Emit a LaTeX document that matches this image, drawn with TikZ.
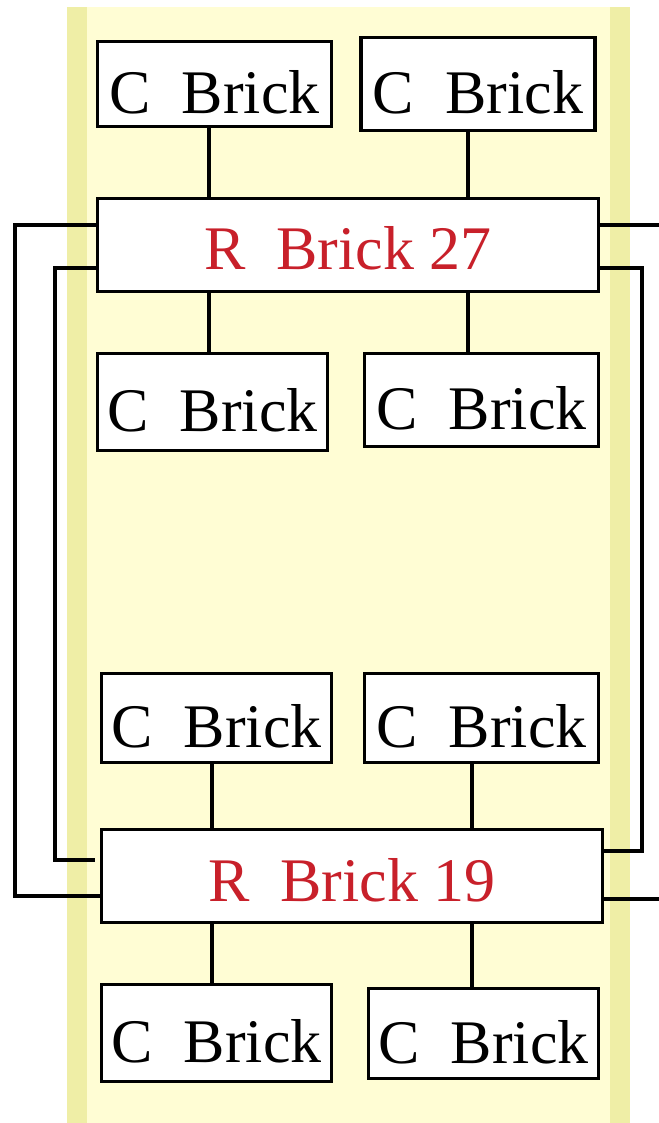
\documentclass[tikz,border=0pt]{standalone}
\usepackage{fontspec}
\setmainfont{Liberation Serif}
\usetikzlibrary{calc}
\definecolor{PanelYellow}{RGB}{255,253,212}
\definecolor{StripeYellow}{RGB}{239,238,166}
\definecolor{BrickRed}{RGB}{200,32,42}

\begin{document}
\begin{tikzpicture}[x=0.5pt,y=-0.5pt,line width=1.8pt,
    cbrick/.style={draw,fill=white,inner sep=0pt,minimum width=117pt,minimum height=45pt,
      text height=29.6pt,text depth=0pt,font=\fontsize{31pt}{36pt}\selectfont},
    rbrick/.style={cbrick,minimum width=250.5pt,minimum height=46.5pt,text height=25pt,text=BrickRed}]
  \useasboundingbox (0,0) rectangle (658,1123);
  \fill[PanelYellow] (67,7) rectangle (630,1123);
  \fill[StripeYellow] (67,7) rectangle (87,1123);
  \fill[StripeYellow] (610,7) rectangle (630,1123);

  \node[cbrick,minimum height=42.5pt] (c27nw) at (214.5,84) {C\ \ Brick};
  \node[cbrick,minimum height=46.5pt] (c27ne) at (478,84) {C\ \ Brick};
  \node[rbrick] (r27) at (348,245) {R\ \ Brick 27};
  \node[cbrick,minimum width=115pt,minimum height=48.5pt] (c27sw) at (212.5,402) {C\ \ Brick};
  \node[cbrick,minimum height=46.5pt] (c27se) at (481.5,400) {C\ \ Brick};

  \node[cbrick,minimum width=115pt,minimum height=44.5pt] (c19nw) at (216.5,718) {C\ \ Brick};
  \node[cbrick,minimum height=44.5pt] (c19ne) at (481.5,718) {C\ \ Brick};
  \node[rbrick] (r19) at (352,876) {R\ \ Brick 19};
  \node[cbrick,minimum width=115pt,minimum height=48.5pt] (c19sw) at (216.5,1033) {C\ \ Brick};
  \node[cbrick,minimum width=115pt,minimum height=45pt] (c19se) at (483.5,1033.5) {C\ \ Brick};

  \coordinate (k27l) at (209,0);
  \coordinate (k27r) at (468,0);
  \coordinate (k19l) at (212,0);
  \coordinate (k19r) at (472,0);
  \draw (c27nw.south -| k27l) -- (r27.north -| k27l);
  \draw (c27ne.south -| k27r) -- (r27.north -| k27r);
  \draw (r27.south -| k27l) -- (c27sw.north -| k27l);
  \draw (r27.south -| k27r) -- (c27se.north -| k27r);
  \draw (c19nw.south -| k19l) -- (r19.north -| k19l);
  \draw (c19ne.south -| k19r) -- (r19.north -| k19r);
  \draw (r19.south -| k19l) -- (c19sw.north -| k19l);
  \draw (r19.south -| k19r) -- (c19se.north -| k19r);

  \draw ([yshift=10pt]r27.west) -- ++(-80.5,0) |- ([yshift=-10pt]r19.west);
  \draw[shorten >=2.5pt] ([yshift=-11.5pt]r27.west) -- ++(-40.5,0) |- ([yshift=8pt]r19.west);
  \draw ([yshift=-11.5pt]r27.east) -- ++(41.5,0) |- ([yshift=12.5pt]r19.east);
  \draw ([yshift=10pt]r27.east) -- ++(60,0);
  \draw ([yshift=-11.5pt]r19.east) -- ++(56,0);
\end{tikzpicture}
\end{document}
